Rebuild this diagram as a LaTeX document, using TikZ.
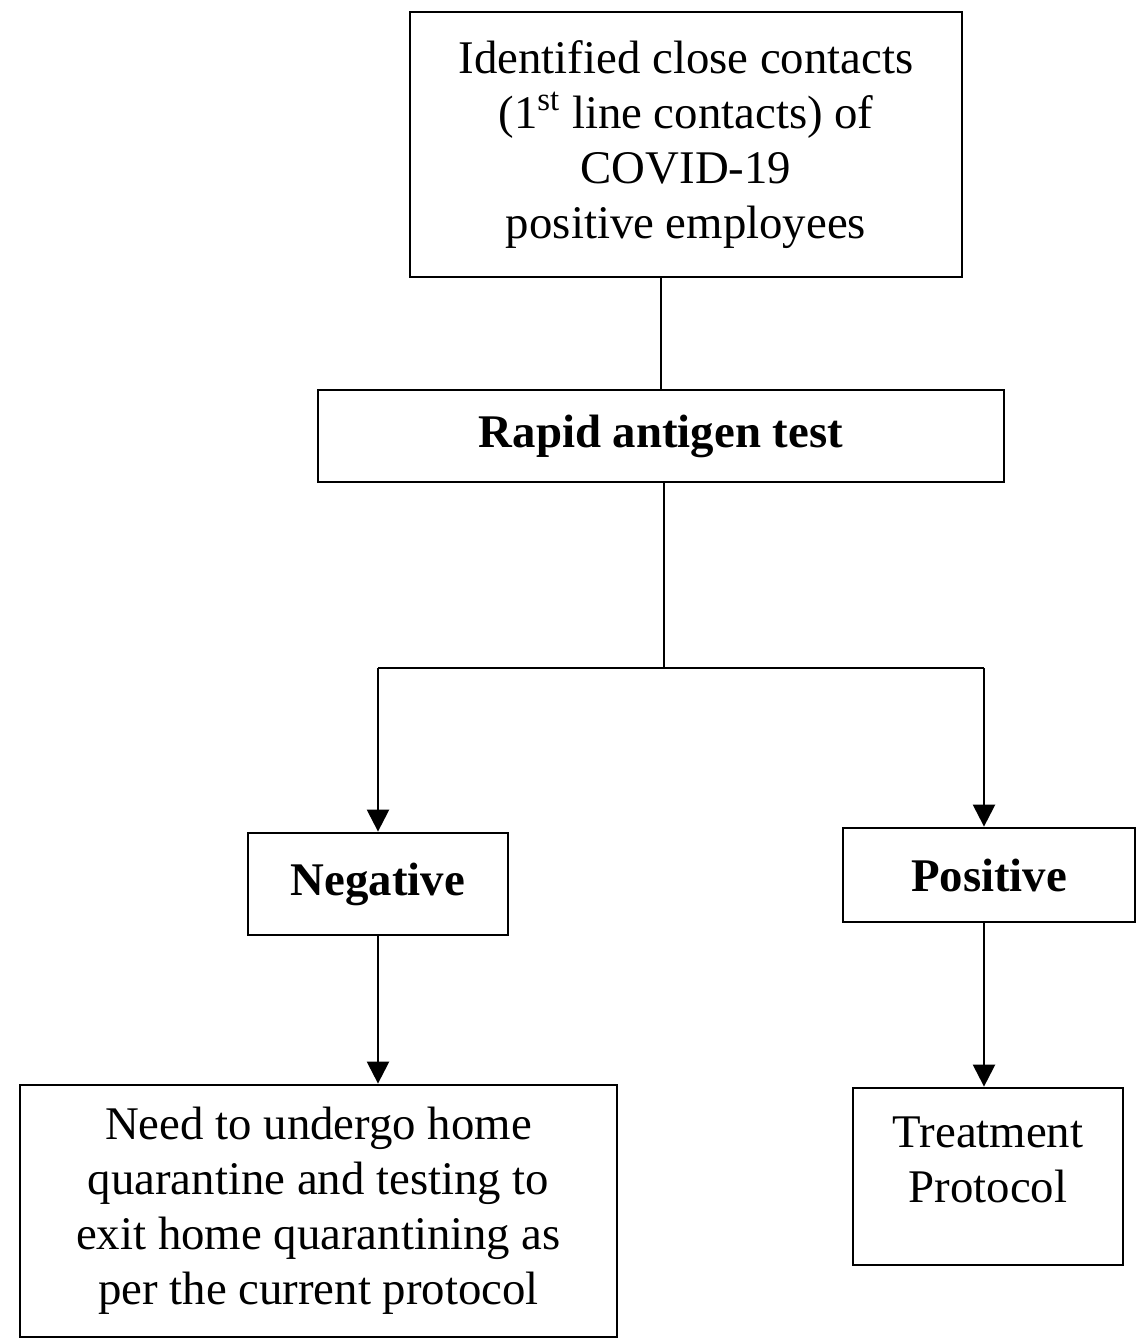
\documentclass[tikz,border=0pt]{standalone}
\usepackage{fontspec}
\setmainfont{Liberation Serif}
\usetikzlibrary{arrows.meta,calc}
\tikzset{
  boxnode/.style={draw=black, line width=1.4pt, inner sep=0pt, align=center,
    font=\fontsize{23.4pt}{27.5pt}\selectfont},
  txtnode/.style={inner sep=0pt, align=center, font=\fontsize{23.4pt}{27.5pt}\selectfont},
  conn/.style={line width=1.2pt},
  arr/.style={line width=1.2pt, -{Triangle[width=11pt,length=11pt]}}
}
\begin{document}
\begin{tikzpicture}[x=0.5pt,y=-0.5pt]
\useasboundingbox (0,0) rectangle (1142,1342);
\node[boxnode, minimum width=276pt, minimum height=132.5pt] (top) at (686,144.5)
  {Identified close contacts\\(1\textsuperscript{st} line contacts) of\\COVID-19\\positive employees};
\node[boxnode, minimum width=343pt, minimum height=46pt, font=\fontsize{23.4pt}{27.5pt}\selectfont\bfseries] (rapid) at (661,436) {Rapid antigen test};
\node[boxnode, minimum width=130pt, minimum height=51pt, font=\fontsize{23.4pt}{27.5pt}\selectfont\bfseries] (neg) at (378,884) {Negative};
\node[boxnode, minimum width=146pt, minimum height=47pt, font=\fontsize{23.4pt}{27.5pt}\selectfont\bfseries] (pos) at (989,875) {Positive};
\node[boxnode, minimum width=298.5pt, minimum height=126pt] (need) at (318.5,1211)
  {Need to undergo home\\quarantine and testing to\\exit home quarantining as\\per the current protocol};
\node[boxnode, minimum width=135pt, minimum height=88.5pt] (treat) at (988,1176.5) {};
\node[txtnode] (treatlbl) at ($(treat.center)+(0,-17)$) {Treatment\\Protocol};
\coordinate (split) at (664,668);
\coordinate (negtop) at (378,668);
\coordinate (postop) at (984,668);
\draw[conn] (rapid.north |- top.south) -- (rapid.north);
\draw[conn] (split |- rapid.south) -- (split);
\draw[conn] (negtop) -- (postop);
\draw[arr] (negtop) -- (negtop |- neg.north);
\draw[arr] (postop) -- (postop |- pos.north);
\draw[arr] (neg.south) -- (neg.south |- need.north);
\draw[arr] (postop |- pos.south) -- (postop |- treat.north);
\end{tikzpicture}
\end{document}
